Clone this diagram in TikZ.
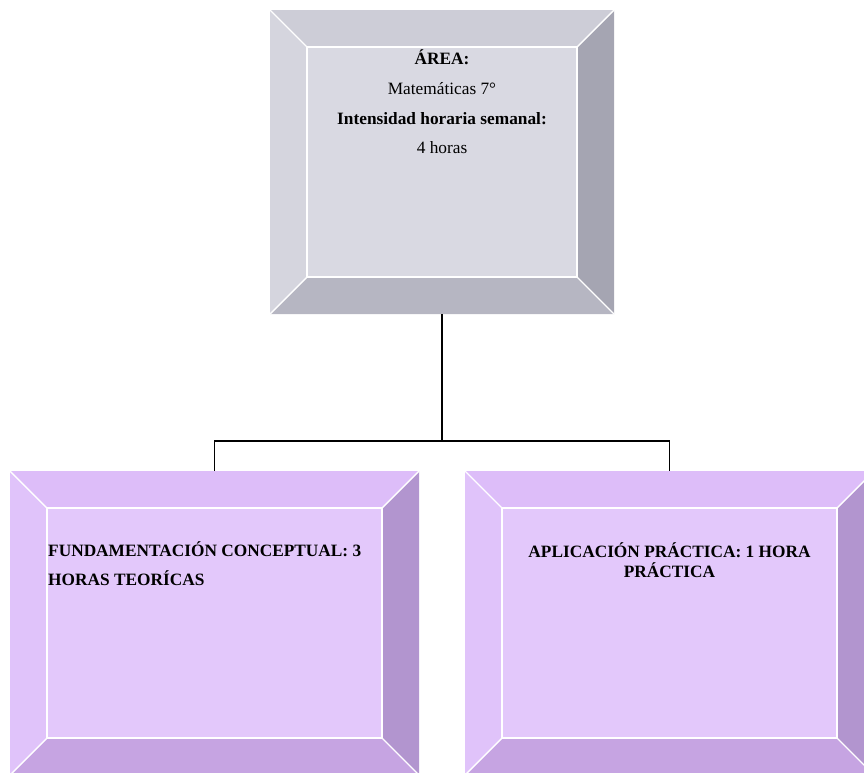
\documentclass[tikz,border=0pt]{standalone}
\usepackage{fontspec}
\setmainfont{Liberation Serif}
\usetikzlibrary{calc}

% facet colours of the bevelled panels
\definecolor{gtop}{RGB}{205,205,215}
\definecolor{gleft}{RGB}{213,213,222}
\definecolor{gmid}{RGB}{217,217,226}
\definecolor{gright}{RGB}{165,165,178}
\definecolor{gbot}{RGB}{182,182,194}
\definecolor{ptop}{RGB}{221,189,249}
\definecolor{pleft}{RGB}{224,195,250}
\definecolor{pmid}{RGB}{227,200,251}
\definecolor{pright}{RGB}{178,149,207}
\definecolor{pbot}{RGB}{198,164,226}

% bevelled panel drawn around node #1 with colour set #2 and depth #3
\newcommand\bevelpanel[3]{%
  \coordinate (#1-a) at ($(#1.north west)+(#3,#3)$);
  \coordinate (#1-b) at ($(#1.north east)+(-#3,#3)$);
  \coordinate (#1-c) at ($(#1.south east)+(-#3,-#3)$);
  \coordinate (#1-d) at ($(#1.south west)+(#3,-#3)$);
  \fill[#2top] (#1.north west) -- (#1.north east) -- (#1-b) -- (#1-a) -- cycle;
  \fill[#2left] (#1.north west) -- (#1-a) -- (#1-d) -- (#1.south west) -- cycle;
  \fill[#2right] (#1.north east) -- (#1.south east) -- (#1-c) -- (#1-b) -- cycle;
  \fill[#2bot] (#1.south west) -- (#1-d) -- (#1-c) -- (#1.south east) -- cycle;
  \fill[#2mid] (#1-a) rectangle (#1-c);
  \draw[facetline] (#1-a) rectangle (#1-c);
  \draw[facetline] (#1.north west) -- (#1-a) (#1.north east) -- (#1-b)
                   (#1.south east) -- (#1-c) (#1.south west) -- (#1-d);
}

\tikzset{
  panel/.style={rectangle, inner sep=0pt, outer sep=0pt, minimum width=#1, minimum height=304pt},
  facetline/.style={white, line width=1.4pt},
  link/.style={black, line width=1.7pt},
  txt/.style={inner sep=0pt, font=\fontsize{17.3}{20}\selectfont},
  btxt/.style={txt, font=\fontsize{17.3}{20}\selectfont\bfseries},
}

\begin{document}
\begin{tikzpicture}[x=1pt, y=-1pt]
  \useasboundingbox (0,0) rectangle (864,772);
  \clip (0,0) rectangle (864,772);

  % panels
  \node[panel=344pt] (top) at (442,162) {};
  \node[panel=409pt] (left) at (214.5,623) {};
  \node[panel=409pt] (right) at (669.5,623) {};

  \bevelpanel{top}{g}{37}
  \bevelpanel{left}{p}{37}
  \bevelpanel{right}{p}{37}

  % connectors
  \coordinate (j) at (442,441);
  \draw[link] (top.south) -- (j);
  \draw[link] (j) -| (left.north);
  \draw[link] (j) -| (right.north);

  % top panel text
  \node[btxt, anchor=base] (t1) at (442,64) {ÁREA:};
  \node[txt, anchor=base] (t2) at (442,94) {Matemáticas 7°};
  \node[btxt, anchor=base] (t3) at (442,124) {Intensidad horaria semanal:};
  \node[txt, anchor=base] (t4) at (442,153) {4 horas};

  % left panel text
  \node[btxt, anchor=base west] (l1) at (48,556) {FUNDAMENTACIÓN CONCEPTUAL: 3};
  \node[btxt, anchor=base west] (l2) at (48,585) {HORAS TEORÍCAS};

  % right panel text
  \node[btxt, anchor=base] (r1) at (669.5,557) {APLICACIÓN PRÁCTICA: 1 HORA};
  \node[btxt, anchor=base] (r2) at (669.5,577) {PRÁCTICA};
\end{tikzpicture}
\end{document}
